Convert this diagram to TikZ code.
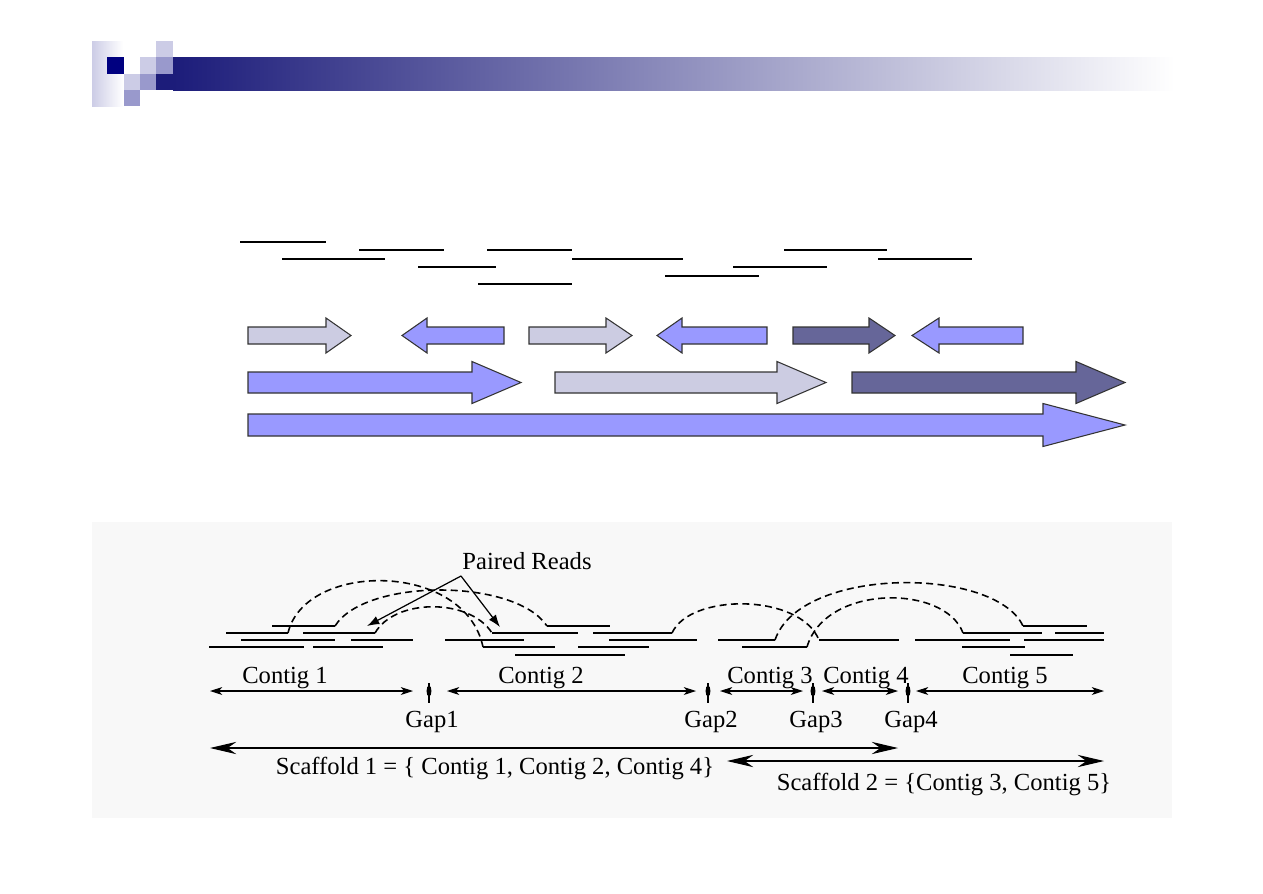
\documentclass[tikz,border=0pt]{standalone}
\usepackage{fontspec}
\setmainfont{Liberation Serif}
\usepackage{xcolor}
\usepackage{tikz}
\usetikzlibrary{positioning}
\usetikzlibrary{arrows.meta}

\definecolor{navy}{HTML}{000080}
\definecolor{barnavy}{HTML}{1C1C7A}
\definecolor{lavlight}{HTML}{CCCCE6}
\definecolor{lavmid}{HTML}{9999CC}
\definecolor{arrlight}{HTML}{CCCCE2}
\definecolor{arrmid}{HTML}{9999FF}
\definecolor{arrdark}{HTML}{666699}
\definecolor{figback}{HTML}{F8F8F8}

\tikzset{
  blockedge/.style={draw=black!80, line width=0.6pt, line join=miter},
  readline/.style={line width=0.8pt},
  pairarc/.style={line width=0.9pt, dash pattern=on 4pt off 2.5pt},
  lbl/.style={font=\fontsize{14}{16}\selectfont, inner sep=0pt},
  contigdim/.style={line width=0.6pt, {Stealth[length=7pt,width=4.5pt,inset=2pt]}-{Stealth[length=7pt,width=4.5pt,inset=2pt]}},
  scafdim/.style={line width=0.6pt, {Stealth[length=15pt,width=7pt,inset=5pt]}-{Stealth[length=15pt,width=7pt,inset=5pt]}},
}

\newcommand{\blockarrow}[7]{%
  \draw[blockedge, fill=#1] (#2,#5-#6) -- (#3,#5-#6) -- (#3,#5-#7) -- (#4,#5)
    -- (#3,#5+#7) -- (#3,#5+#6) -- (#2,#5+#6) -- cycle;}

\begin{document}
\begin{tikzpicture}[x=0.02cm, y=-0.02cm]
  \useasboundingbox (0,0) rectangle (1263,893);
  \fill[white] (0,0) rectangle (1263,893);

  % header
  \shade[left color=lavlight, right color=white] (92,41) rectangle (123,106);
  \fill[navy] (107,57) rectangle (124,74);
  \fill[lavlight] (156,41) rectangle (173,57);
  \fill[lavlight] (140,57) rectangle (156,74);
  \fill[lavmid] (156,57) rectangle (173,74);
  \fill[lavlight] (124,74) rectangle (140,90);
  \fill[lavmid] (140,74) rectangle (156,90);
  \fill[lavmid] (124,90) rectangle (140,106);
  \fill[barnavy] (156,74) rectangle (173,90);
  \shade[left color=barnavy, right color=white] (173,57) rectangle (1175,90);

  % reads
  \draw[line width=1.4pt] (240,242) -- (326,242);
  \foreach \y/\a/\b in {250/359/444, 250/487/572, 250/784/887,
                        259/282/385, 259/572/683, 259/878/972,
                        267/418/496, 267/733/827, 276/665/759, 284/478/572}
    \draw[line width=0.8pt] (\a,\y) -- (\b,\y);

  % contigs
  \blockarrow{arrlight}{248}{326}{351}{335.5}{8.5}{17.5}
  \blockarrow{arrmid}{504}{427}{402}{335.5}{8.5}{17.5}
  \blockarrow{arrlight}{529}{606}{632}{335.5}{8.5}{17.5}
  \blockarrow{arrmid}{767}{682}{657}{335.5}{8.5}{17.5}
  \blockarrow{arrdark}{793}{869}{895}{335.5}{8.5}{17.5}
  \blockarrow{arrmid}{1023}{939}{912}{335.5}{8.5}{17.5}
  \blockarrow{arrmid}{248}{472}{521}{382.5}{10.5}{21}
  \blockarrow{arrlight}{555}{777}{826}{382.5}{10.5}{21}
  \blockarrow{arrdark}{852}{1076}{1125}{382.5}{10.5}{21}
  \blockarrow{arrmid}{248}{1043}{1125}{425}{11}{21.5}

  % scaffold figure
  \fill[figback] (92,522) rectangle (1172,818);
  \foreach \y/\a/\b in {626/272/335, 626/547/610, 626/1023/1087,
                        633/226/288, 633/303/375, 633/492/578, 633/593/672, 633/963/1042, 633/1055/1104,
                        640/241/335, 640/351/413, 640/445/524, 640/609/697, 640/718/775, 640/819/899, 640/915/1010, 640/1024/1104,
                        647/209/304, 647/313/383, 647/483/555, 647/578/649, 647/742/807, 647/962/1025,
                        655/515/625, 655/1010/1073}
    \draw[readline] (\a,\y) -- (\b,\y);

  \draw[pairarc] (288,633) .. controls (305,561) and (465,561) .. (483,647);
  \draw[pairarc] (335,626) .. controls (365,578) and (515,578) .. (547,626);
  \draw[pairarc] (375,633) .. controls (395,598) and (470,598) .. (492,633);
  \draw[pairarc] (672,633) .. controls (690,593) and (800,593) .. (819,640);
  \draw[pairarc] (775,640) .. controls (800,566) and (995,566) .. (1023,626);
  \draw[pairarc] (807,647) .. controls (825,584) and (945,584) .. (963,633);

  \node[lbl, anchor=base] (paired) at (527,569) {Paired Reads};
  \coordinate (apex) at (461,576);
  \coordinate (pr1) at (367,626);
  \coordinate (pr2) at (500,627);
  \draw[line width=0.7pt, -{Latex[length=7pt,width=5pt]}] (apex) -- (pr1);
  \draw[line width=0.7pt, -{Latex[length=7pt,width=5pt]}] (apex) -- (pr2);

  \coordinate (c1l) at (210,691);  \coordinate (c1r) at (413,691);
  \coordinate (c2l) at (447,691);  \coordinate (c2r) at (696,691);
  \coordinate (c3l) at (720,691);  \coordinate (c3r) at (803,691);
  \coordinate (c4l) at (822,691);  \coordinate (c4r) at (898,691);
  \coordinate (c5l) at (916,691);  \coordinate (c5r) at (1104,691);
  \draw[contigdim] (c1l) -- (c1r);
  \draw[contigdim] (c2l) -- (c2r);
  \draw[contigdim] (c3l) -- (c3r);
  \draw[contigdim] (c4l) -- (c4r);
  \draw[contigdim] (c5l) -- (c5r);

  \node[lbl, anchor=base] (contig1) at (285,683) {Contig 1};
  \node[lbl, anchor=base] (contig2) at (541,683) {Contig 2};
  \node[lbl, anchor=base] (contig3) at (770,683) {Contig 3};
  \node[lbl, anchor=base] (contig4) at (866,683) {Contig 4};
  \node[lbl, anchor=base] (contig5) at (1005,683) {Contig 5};

  \foreach \gx/\gn in {429/1, 708/2, 813/3, 908/4} {
    \draw[line width=0.6pt] (\gx,683) -- (\gx,703);
    \fill (\gx,691) ellipse [x radius=1.4pt, y radius=3.2pt];
    \node[lbl, anchor=base] (gap\gn) at (\gx+3,727) {Gap\gn};
  }

  \coordinate (s1l) at (210,748);  \coordinate (s1r) at (898,748);
  \coordinate (s2l) at (727,761);  \coordinate (s2r) at (1104,761);
  \draw[scafdim] (s1l) -- (s1r);
  \draw[scafdim] (s2l) -- (s2r);
  \node[lbl, anchor=base] (scaf1) at (495,774) {Scaffold 1 = \{ Contig 1, Contig 2, Contig 4\}};
  \node[lbl, anchor=base] (scaf2) at (944,790) {Scaffold 2 = \{Contig 3, Contig 5\}};
\end{tikzpicture}
\end{document}
